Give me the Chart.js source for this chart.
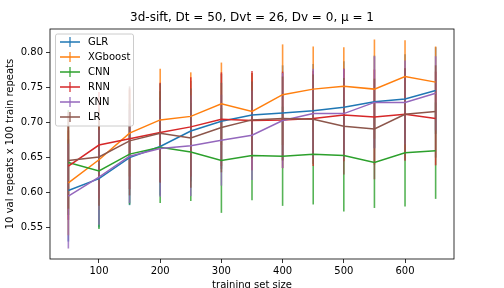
<!DOCTYPE html>
<html>
<head>
<meta charset="utf-8">
<script src="https://cdn.jsdelivr.net/npm/chart.js@4.4.1/dist/chart.umd.min.js"></script>
<style>
  html, body { margin: 0; padding: 0; background: #fff; }
  #wrap { width: 504px; height: 288px; }
</style>
</head>
<body>
<div id="wrap"><canvas id="chart" width="504" height="288"></canvas></div>
<script>
// ---- data ----
const sizes = [50, 100, 150, 200, 250, 300, 350, 400, 450, 500, 550, 600, 650];
const xTicks = [100, 200, 300, 400, 500, 600];
const yTicks = [0.55, 0.60, 0.65, 0.70, 0.75, 0.80];

const names = ['GLR', 'XGboost', 'CNN', 'RNN', 'KNN', 'LR'];
const colors = ['#1f77b4', '#ff7f0e', '#2ca02c', '#d62728', '#9467bd', '#8c564b'];

const glr = [0.603, 0.620, 0.650, 0.666, 0.688, 0.702, 0.711, 0.714, 0.717, 0.722, 0.730, 0.734, 0.746];
const xgb = [0.614, 0.647, 0.685, 0.704, 0.709, 0.727, 0.716, 0.740, 0.748, 0.752, 0.748, 0.766, 0.758];
const cnn = [0.643, 0.631, 0.655, 0.665, 0.658, 0.646, 0.653, 0.652, 0.655, 0.653, 0.643, 0.657, 0.660];
const rnn = [0.638, 0.668, 0.677, 0.686, 0.694, 0.705, 0.703, 0.704, 0.706, 0.711, 0.708, 0.712, 0.706];
const knn = [0.595, 0.622, 0.652, 0.663, 0.667, 0.675, 0.682, 0.703, 0.713, 0.713, 0.729, 0.729, 0.742];
const lr  = [0.646, 0.651, 0.674, 0.685, 0.678, 0.693, 0.704, 0.706, 0.705, 0.695, 0.691, 0.712, 0.716];

// half-widths of the error bars
const glrErr = [0.073, 0.070, 0.068, 0.070, 0.072, 0.068, 0.060, 0.068, 0.067, 0.066, 0.066, 0.064, 0.062];
const xgbErr = [0.075, 0.072, 0.062, 0.073, 0.063, 0.059, 0.055, 0.072, 0.061, 0.056, 0.071, 0.052, 0.051];
const cnnErr = [0.075, 0.083, 0.072, 0.080, 0.070, 0.075, 0.064, 0.071, 0.072, 0.080, 0.065, 0.077, 0.069];
const rnnErr = [0.077, 0.076, 0.072, 0.071, 0.071, 0.067, 0.071, 0.069, 0.068, 0.066, 0.068, 0.066, 0.067];
const knnErr = [0.075, 0.068, 0.067, 0.069, 0.072, 0.065, 0.064, 0.068, 0.064, 0.064, 0.066, 0.060, 0.053];
const lrErr  = [0.069, 0.070, 0.078, 0.071, 0.071, 0.064, 0.055, 0.060, 0.064, 0.069, 0.072, 0.066, 0.066];

const means = [glr, xgb, cnn, rnn, knn, lr];
const errs = [glrErr, xgbErr, cnnErr, rnnErr, knnErr, lrErr];

const FONT = 'DejaVu Sans';

function withAlpha(hex, a) {
  const n = parseInt(hex.slice(1), 16);
  return `rgba(${n >> 16}, ${(n >> 8) & 255}, ${n & 255}, ${a})`;
}

// ---- error bars, drawn under all lines ----
const errorBars = {
  id: 'errorBars',
  beforeDatasetsDraw(chart) {
    const { ctx, chartArea, scales: { x, y } } = chart;
    ctx.save();
    ctx.beginPath();
    ctx.rect(chartArea.left, chartArea.top, chartArea.right - chartArea.left, chartArea.bottom - chartArea.top);
    ctx.clip();
    ctx.lineWidth = 1.6;
    means.forEach((m, i) => {
      ctx.strokeStyle = withAlpha(colors[i], 0.8);
      sizes.forEach((s, j) => {
        const px = x.getPixelForValue(s);
        ctx.beginPath();
        ctx.moveTo(px, y.getPixelForValue(m[j] + errs[i][j]));
        ctx.lineTo(px, y.getPixelForValue(m[j] - errs[i][j]));
        ctx.stroke();
      });
    });
    ctx.restore();
  }
};

// ---- frame + matplotlib-like legend ----
const frameLegend = {
  id: 'frameLegend',
  afterDraw(chart) {
    const { ctx, chartArea: a } = chart;
    ctx.save();
    ctx.strokeStyle = '#000';
    ctx.lineWidth = 0.8;
    ctx.strokeRect(a.left, a.top, a.right - a.left, a.bottom - a.top);

    // legend box
    const bx = a.left + 5.5, by = a.top + 5, bw = 78, bh = 92, r = 2;
    ctx.beginPath();
    ctx.moveTo(bx + r, by);
    ctx.arcTo(bx + bw, by, bx + bw, by + bh, r);
    ctx.arcTo(bx + bw, by + bh, bx, by + bh, r);
    ctx.arcTo(bx, by + bh, bx, by, r);
    ctx.arcTo(bx, by, bx + bw, by, r);
    ctx.closePath();
    ctx.fillStyle = 'rgba(255,255,255,0.8)';
    ctx.fill();
    ctx.strokeStyle = '#cccccc';
    ctx.lineWidth = 1;
    ctx.stroke();

    ctx.font = `10px "${FONT}"`;
    ctx.textBaseline = 'middle';
    ctx.textAlign = 'left';
    names.forEach((n, i) => {
      const cy = by + 8 + i * 15;
      const hx0 = bx + 4.5, hx1 = hx0 + 20;
      ctx.lineWidth = 1.5;
      ctx.strokeStyle = withAlpha(colors[i], 0.8);
      ctx.beginPath();
      ctx.moveTo((hx0 + hx1) / 2, cy - 5);
      ctx.lineTo((hx0 + hx1) / 2, cy + 5);
      ctx.stroke();
      ctx.strokeStyle = colors[i];
      ctx.beginPath();
      ctx.moveTo(hx0, cy);
      ctx.lineTo(hx1, cy);
      ctx.stroke();
      ctx.fillStyle = '#000';
      ctx.fillText(n, hx1 + 8, cy + 0.5);
    });
    ctx.restore();
  }
};

const datasets = names.map((n, i) => ({
  label: n,
  data: sizes.map((s, j) => ({ x: s, y: means[i][j] })),
  borderColor: colors[i],
  backgroundColor: colors[i],
  borderWidth: 1.5,
  pointRadius: 0,
  tension: 0,
  fill: false,
  order: names.length - 1 - i
}));

const tickGrid = {
  drawOnChartArea: false,
  drawTicks: true,
  tickLength: 4,
  color: '#000',
  lineWidth: 0.8
};

new Chart(document.getElementById('chart'), {
  type: 'line',
  data: { datasets },
  options: {
    responsive: false,
    animation: false,
    events: [],
    layout: { padding: { left: 0, right: 50, top: 0, bottom: 0 } },
    plugins: {
      legend: { display: false },
      tooltip: { enabled: false },
      title: {
        display: true,
        fullSize: false,
        text: '3d-sift, Dt = 50, Dvt = 26, Dv = 0, \u03bc = 1',
        color: '#000',
        font: { family: FONT, size: 12, weight: 'normal' },
        padding: { top: 11, bottom: 3.6 }
      }
    },
    scales: {
      x: {
        type: 'linear',
        min: 20,
        max: 680,
        afterFit: (s) => { s.height = 29; },
        afterBuildTicks: (s) => { s.ticks = xTicks.map(v => ({ value: v })); },
        grid: tickGrid,
        border: { display: false },
        ticks: {
          color: '#000',
          padding: 2,
          maxRotation: 0,
          font: { family: FONT, size: 10 },
          callback: (v) => String(v)
        },
        title: {
          display: true,
          text: 'training set size',
          color: '#000',
          font: { family: FONT, size: 10 },
          padding: { top: 0, bottom: -3 }
        }
      },
      y: {
        type: 'linear',
        min: 0.505,
        max: 0.834,
        afterFit: (s) => { s.width = 50; },
        afterBuildTicks: (s) => { s.ticks = yTicks.map(v => ({ value: v })); },
        grid: tickGrid,
        border: { display: false },
        ticks: {
          color: '#000',
          padding: 3,
          font: { family: FONT, size: 10 },
          callback: (v) => v.toFixed(2)
        },
        title: {
          display: true,
          text: '10 val repeats x 100 train repeats',
          color: '#000',
          font: { family: FONT, size: 10 },
          padding: { top: 4, bottom: 0 }
        }
      }
    }
  },
  plugins: [errorBars, frameLegend]
});
</script>
</body>
</html>
